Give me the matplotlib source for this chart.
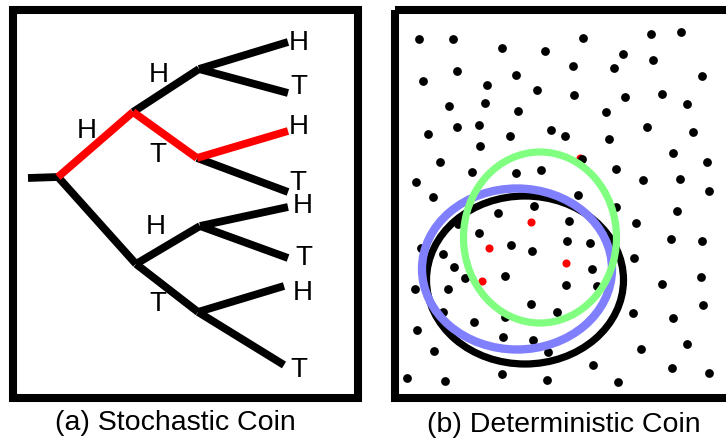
import matplotlib
matplotlib.use("Agg")
import matplotlib.pyplot as plt
from matplotlib.patches import Rectangle, Ellipse

# ---- (a) stochastic coin tree, pixel coordinates ----
node_names = ["start", "root", "H", "T", "HH", "HT", "TH", "TT",
              "HHH", "HHT", "HTH", "HTT", "THH", "THT", "TTH", "TTT"]
node_x = [28, 58, 133, 136, 199, 197, 200, 198,
          288, 288, 288, 288, 288, 288, 284, 284]
node_y = [178, 177, 112, 264, 69, 158, 226, 312,
          42, 93, 131, 192, 207, 258, 286, 365]

black_edges = [("start", "root"), ("root", "T"), ("H", "HH"),
               ("HH", "HHH"), ("HH", "HHT"), ("HT", "HTT"),
               ("T", "TH"), ("T", "TT"), ("TH", "THH"), ("TH", "THT"),
               ("TT", "TTH"), ("TT", "TTT")]
red_edges = [("root", "H"), ("H", "HT"), ("HT", "HTH")]

edge_labels = ["H", "H", "T", "H", "T"]
edge_label_x = [159, 87, 158, 156, 158]
edge_label_y = [75, 131, 155, 227, 304]

leaf_labels = ["H", "T", "H", "T", "H", "T", "H", "T"]
leaf_label_x = [299, 299, 299, 298, 303, 304, 303, 299]
leaf_label_y = [43, 87, 127, 183, 206, 258, 293, 370]

# ---- (b) deterministic coin, sample points ----
dot_x = [419.3, 452.7, 501.7, 545, 582.7, 651, 681, 623.3, 653.3, 456.7,
         423.3, 516, 573.3, 614, 701.7, 487.3, 536.7, 574.3, 625.3, 661.7,
         449.3, 485, 518.3, 606, 687.3, 427.7, 456.7, 479, 510, 551,
         565, 609.3, 647.3, 693.3, 480, 440, 471.7, 516, 540.7, 582,
         616, 672.7, 706.7, 416, 433.3, 578.3, 643.3, 680, 709.3, 534.3,
         498.3, 569.3, 616, 636, 676.7, 458.3, 479, 510.7, 532.3, 566.7,
         590, 670.7, 701.7, 421, 442.7, 454, 465, 505, 565.7, 592.3,
         634, 415, 448.3, 597.3, 661.7, 700.7, 443.3, 474, 505, 530.7,
         556.7, 633.3, 673.3, 702.7, 416.7, 503.3, 532.7, 548.3, 434, 641,
         687.3, 593.3, 671.7, 709.3, 406.7, 445, 501.7, 547.3, 617.7]
dot_y = [39.3, 39.3, 48.3, 50.7, 37.7, 34, 31.7, 54, 60, 70.7,
         81, 75, 66, 68.3, 76, 85, 90, 95, 97.3, 94.3,
         105.7, 103.3, 111, 112.3, 104.3, 134, 127.3, 125, 136, 130,
         136, 138.7, 126.7, 132, 146, 161.7, 171.7, 172.7, 170, 159.3,
         168.7, 152.7, 162, 181.7, 197.3, 195, 180, 179, 191.3, 206,
         213.3, 220.7, 207.3, 222.7, 210.7, 224, 232.7, 245, 250.7, 240.7,
         242.7, 239.3, 241.3, 248.3, 254, 266.7, 277.7, 276, 285, 269.3,
         258.3, 289.3, 289, 285.7, 284, 277.3, 311.7, 321.7, 317.3, 304.3,
         311.7, 313.3, 318.3, 305, 330, 336.7, 340, 351.7, 350.7, 349.3,
         344, 365, 367.7, 372.7, 377.7, 380.7, 374.3, 380, 381.7]
red_dot_x = [531, 488.7, 565.7, 481.7, 461.7, 580]
red_dot_y = [221.7, 248.3, 262.7, 280.7, 220, 158]

# ellipses: centre x, centre y, width, height
ellipse_black = (525, 280, 197, 168)
ellipse_blue = (517, 269, 190, 161)
ellipse_green = (540, 237.5, 153, 171)

captions = ["(a) Stochastic Coin", "(b) Deterministic Coin"]
caption_x = [175, 564]
caption_y = [423, 425]

fig = plt.figure(figsize=(7.26, 4.41), dpi=100)
ax = fig.add_axes([0, 0, 1, 1])
ax.set_xlim(0, 726)
ax.set_ylim(441, 0)
ax.axis("off")

# frames
ax.add_patch(Rectangle((13, 10), 345, 388, fill=False, lw=5.8, ec="black"))
ax.add_patch(Rectangle((395, 10), 340, 388, fill=False, lw=5.8, ec="black"))

pos = {n: (x, y) for n, x, y in zip(node_names, node_x, node_y)}
for a, b in black_edges:
    ax.plot([pos[a][0], pos[b][0]], [pos[a][1], pos[b][1]], color="black",
            lw=5.6, solid_capstyle="butt")
for a, b in red_edges:
    ax.plot([pos[a][0], pos[b][0]], [pos[a][1], pos[b][1]], color="#ff0000",
            lw=5.6, solid_capstyle="butt")

font = ["Liberation Sans", "DejaVu Sans"]
for t, x, y in zip(edge_labels + leaf_labels, edge_label_x + leaf_label_x,
                   edge_label_y + leaf_label_y):
    ax.text(x, y, t, fontsize=20, family=font, ha="center", va="center")

ax.scatter(red_dot_x, red_dot_y, s=34, color="#ff0000", lw=0, zorder=2)
ax.scatter(dot_x, dot_y, s=40, color="black", lw=0, zorder=3)

for (cx, cy, w, h), col, lw in [(ellipse_black, "black", 5.2),
                                (ellipse_blue, "#8080ff", 6.0),
                                (ellipse_green, "#80ff80", 5.2)]:
    ax.add_patch(Ellipse((cx, cy), w, h, fill=False, ec=col, lw=lw, zorder=4))

for t, x, y in zip(captions, caption_x, caption_y):
    ax.text(x, y, t, fontsize=20.5, family=font, ha="center", va="center")

fig.savefig("out.png", dpi=100)
